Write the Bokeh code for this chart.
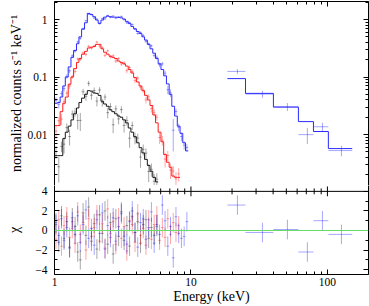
import numpy as np
from bokeh.plotting import figure
from bokeh.models import (ColumnDataSource, Range1d, LogAxis, LinearAxis, FixedTicker,
                          CustomJSTickFormatter, Span)
from bokeh.layouts import column
from bokeh.embed import file_html
from bokeh.resources import INLINE

# ---------------- data ----------------
E_edges = [1.00, 1.05, 1.10, 1.15, 1.20, 1.26, 1.32, 1.38, 1.45, 1.51, 1.58, 1.66, 1.74, 1.82,
           1.91, 2.00, 2.09, 2.19, 2.29, 2.40, 2.51, 2.63, 2.75, 2.88, 3.02, 3.16, 3.31, 3.47,
           3.63, 3.80, 3.98, 4.17, 4.37, 4.57, 4.79, 5.01, 5.25, 5.50, 5.75, 6.03, 6.31, 6.61,
           6.92, 7.24, 7.59, 7.94, 8.32, 8.71, 9.12, 9.55]

blue_model = [0.035, 0.036, 0.045, 0.070, 0.10, 0.15, 0.22, 0.29, 0.38, 0.50,
              0.68, 0.88, 1.28, 1.22, 1.12, 0.98, 0.86, 0.98, 1.10, 1.15,
              1.12, 1.10, 1.10, 1.09, 1.07, 1.02, 0.93, 0.85, 0.76, 0.69,
              0.62, 0.57, 0.50, 0.44, 0.37, 0.31, 0.26, 0.21, 0.17, 0.135,
              0.105, 0.076, 0.050, 0.031, 0.021, 0.014, 0.0105, 0.0072, 0.0052]
blue_relerr = [0.15, 0.14, 0.12, 0.10, 0.09, 0.08, 0.07, 0.06, 0.05, 0.05,
               0.045, 0.04, 0.035, 0.035, 0.035, 0.035, 0.04, 0.035, 0.035, 0.035,
               0.035, 0.035, 0.035, 0.035, 0.035, 0.035, 0.04, 0.04, 0.04, 0.045,
               0.045, 0.05, 0.05, 0.055, 0.06, 0.065, 0.07, 0.08, 0.09, 0.10,
               0.11, 0.13, 0.16, 0.22, 0.14, 0.14, 0.15, 0.15, 0.16]
blue_chi = [0.8, -0.5, 1.2, -1.0, 0.3, -1.8, 0.9, -0.4, 1.5, -1.2,
            0.6, 2.1, -0.8, 0.2, -1.5, 1.1, -0.3, 1.8, -1.9, 0.5,
            -0.7, 1.3, -1.1, 0.4, 1.7, -0.6, -1.4, 0.9, 2.0, -0.2,
            -1.7, 0.8, 1.2, -0.9, 0.3, 1.9, -1.3, 0.6, -0.4, 2.6,
            1.0, -1.6, 0.4, -2.8, 1.4, -0.3, -0.8, -0.6, 0.9]

red_model = [0.0143, 0.0143, 0.025, 0.035, 0.045, 0.075, 0.10, 0.14, 0.18, 0.21,
             0.25, 0.28, 0.32, 0.33, 0.34, 0.37, 0.37, 0.31, 0.27, 0.25,
             0.23, 0.22, 0.21, 0.19, 0.18, 0.17, 0.155, 0.135, 0.118, 0.098,
             0.082, 0.07, 0.058, 0.048, 0.040, 0.032, 0.022, 0.016, 0.011, 0.0075,
             0.0045, 0.0033, 0.0027, 0.0019, 0.0018, 0.0018]
red_relerr = [0.22, 0.2, 0.16, 0.14, 0.12, 0.1, 0.09, 0.08, 0.075, 0.07,
              0.065, 0.06, 0.06, 0.06, 0.06, 0.06, 0.06, 0.06, 0.065, 0.065,
              0.07, 0.07, 0.07, 0.075, 0.075, 0.08, 0.08, 0.085, 0.09, 0.09,
              0.1, 0.1, 0.11, 0.11, 0.12, 0.13, 0.15, 0.17, 0.19, 0.21,
              0.24, 0.26, 0.27, 0.28, 0.3, 0.3]
red_chi = [-0.9, 1.1, -1.6, 0.5, 1.4, -0.7, 0.2, -1.3, 1.9, -0.4,
           0.8, -2.0, 1.2, -0.6, 0.3, 1.6, -1.1, 0.7, -1.8, 2.2,
           -0.3, 0.9, -1.4, 1.3, -0.8, 0.4, -2.1, 1.0, 0.6, -1.2,
           1.7, -0.5, 0.2, -1.5, 1.1, -0.9, 0.6, 1.5, -1.0, 0.3,
           -0.7, 1.2, -0.4, 0.8, -0.2, 0.5]

black_model = [0.0043, 0.0043, 0.0043, 0.0085, 0.011, 0.014, 0.018, 0.023, 0.029, 0.036,
               0.043, 0.050, 0.058, 0.057, 0.053, 0.052, 0.048, 0.038, 0.034, 0.031,
               0.027, 0.025, 0.023, 0.021, 0.020, 0.018, 0.016, 0.013, 0.011, 0.0092,
               0.0072, 0.0059, 0.0048, 0.0037, 0.0029, 0.0023, 0.0018, 0.0015]
black_relerr = [0.3, 0.3, 0.3, 0.25, 0.22, 0.2, 0.2, 0.18, 0.18, 0.17,
                0.16, 0.15, 0.14, 0.14, 0.14, 0.14, 0.15, 0.15, 0.16, 0.16,
                0.17, 0.17, 0.18, 0.18, 0.19, 0.2, 0.2, 0.21, 0.22, 0.22,
                0.23, 0.24, 0.25, 0.26, 0.27, 0.28, 0.29, 0.3]
black_chi = [0.6, -1.2, 1.5, -0.8, 0.9, -1.7, 1.3, 0.4, -2.2, -3.0,
             1.8, -0.5, 2.4, -1.1, 0.7, -1.9, 1.6, -0.3, 2.0, -1.4,
             0.8, -2.4, 1.2, -0.6, 1.9, -1.0, 0.5, -1.6, 1.4, -0.2,
             0.9, -1.3, 0.6, 1.1, -0.8, 0.3, -0.5, 0.4]

hard_edges = [18.5, 25.1, 40.2, 61.3, 79.0, 101.6, 152.0]
hard_center = [21.9, 33.4, 50.9, 71.3, 91.9, 126.7]
hard_model = [0.094, 0.052, 0.030, 0.0168, 0.0113, 0.0057]
hard_relerr = [0.128, 0.135, 0.16, 0.185, 0.21, 0.19]
hard_chi = [2.6, -0.2, 0.1, -2.2, 1.0, -0.4]

x_major = [1, 10, 100]
y_major = [0.001, 0.01, 0.1, 1]
chi_major = [-4, -2, 0, 2, 4]
chi_minor = [-3, -1, 1, 3]

FONT = "Liberation Serif"

# ---------------- layout (pixels) ----------------
W = 369
H1, H2 = 185, 121          # upper / lower canvas heights
ML, MR = 54, 1
X_RANGE = (1, 200)
Y_RANGE = (0.0013, 2.06)   # spectrum panel
CHI_DIV, CHI_MIN = 4.0, -4.5
CHI_TOP = CHI_DIV + 0.6    # lower canvas reaches a little above the divider


def build(edges, model, relerr, chi, centers=None):
    n = len(model)
    lo = np.array(edges[:n], float)
    hi = np.array(edges[1:n + 1], float)
    m = np.array(model, float)
    s = m * np.array(relerr, float)
    c = np.array(chi, float)
    d = m + c * s
    xc = np.array(centers, float) if centers is not None else (lo + hi) / 2
    src = ColumnDataSource(dict(lo=lo, hi=hi, xc=xc, d=d, dlo=np.maximum(d - s, 1e-4),
                                dhi=d + s, chi=c, clo=c - 1, chh=c + 1))
    return src, list(edges[:n + 1]), list(model) + [model[-1]]


def log_minor(majors, lo, hi):
    return [b * k for b in majors for k in range(2, 10) if lo <= b * k <= hi]


x_minor = log_minor([1, 10, 100], 1, 200)
y_minor = log_minor(y_major, Y_RANGE[0], Y_RANGE[1])

FMT = "return String(Number(tick.toPrecision(3)));"


def style(ax, labels=True, standoff=3):
    ax.major_tick_in = 5
    ax.major_tick_out = 0
    ax.minor_tick_in = 3
    ax.minor_tick_out = 0
    ax.axis_line_color = "black"
    ax.major_tick_line_color = "black"
    ax.minor_tick_line_color = "black"
    ax.major_label_text_font = FONT
    ax.major_label_text_color = "black"
    ax.axis_label_text_font = FONT
    ax.axis_label_text_font_style = "normal"
    ax.axis_label_text_font_size = "14px"
    ax.axis_label_text_color = "black"
    if labels:
        ax.major_label_text_font_size = "11.5px"
        ax.major_label_standoff = standoff
    else:
        ax.major_label_text_font_size = "1px"
        ax.major_label_text_alpha = 0
        ax.major_label_standoff = 0


# ---------------- spectrum panel ----------------
p1 = figure(width=W, height=H1, x_axis_type="log", y_axis_type="log", x_axis_location=None,
            x_range=Range1d(*X_RANGE), y_range=Range1d(*Y_RANGE),
            output_backend="svg", toolbar_location=None,
            min_border_left=ML, min_border_right=MR, min_border_top=1, min_border_bottom=0)
p1.grid.visible = False
p1.outline_line_color = None
p1.yaxis.ticker = FixedTicker(ticks=y_major, minor_ticks=y_minor)
p1.yaxis.formatter = CustomJSTickFormatter(code=FMT)
style(p1.yaxis[0], labels=True, standoff=7)
p1.yaxis.axis_label = "normalized counts s\u207b\u00b9 keV\u207b\u00b9"
p1.yaxis.axis_label_standoff = 0
ax = LogAxis(ticker=FixedTicker(ticks=x_major, minor_ticks=x_minor))
style(ax, labels=False)
p1.add_layout(ax, "above")
ax = LogAxis(ticker=FixedTicker(ticks=y_major, minor_ticks=y_minor))
style(ax, labels=False)
p1.add_layout(ax, "right")

# ---------------- residual panel ----------------
p2 = figure(width=W, height=H2, x_axis_type="log",
            x_range=p1.x_range, y_range=Range1d(CHI_MIN, CHI_TOP),
            output_backend="svg", toolbar_location=None,
            min_border_left=ML, min_border_right=MR, min_border_top=0, min_border_bottom=30)
p2.grid.visible = False
p2.outline_line_color = None
p2.xaxis.ticker = FixedTicker(ticks=x_major, minor_ticks=x_minor)
p2.xaxis.formatter = CustomJSTickFormatter(code=FMT)
p2.yaxis.ticker = FixedTicker(ticks=chi_major, minor_ticks=chi_minor)
style(p2.xaxis[0], labels=True, standoff=3)
style(p2.yaxis[0], labels=True, standoff=7)
p2.xaxis.axis_label = "Energy (keV)"
p2.xaxis.axis_label_standoff = 0
p2.yaxis.axis_label = "\u03c7"
p2.yaxis.axis_label_standoff = 10
ax = LinearAxis(ticker=FixedTicker(ticks=chi_major, minor_ticks=chi_minor))
style(ax, labels=False)
p2.add_layout(ax, "right")

# divider line between the panels, with the energy ticks on both of its sides
p2.add_layout(Span(location=CHI_DIV, dimension="width", line_color="black", line_width=1))
p2.segment(x0=x_major, y0=[CHI_DIV - 0.5] * len(x_major), x1=x_major,
           y1=[CHI_DIV + 0.5] * len(x_major), line_color="black")
p2.segment(x0=x_minor, y0=[CHI_DIV - 0.3] * len(x_minor), x1=x_minor,
           y1=[CHI_DIV + 0.3] * len(x_minor), line_color="black")
p2.add_layout(Span(location=0, dimension="width", line_color="#66dd66", line_width=1))

spectra = [
    (build(E_edges, black_model, black_relerr, black_chi), "#000000", "#1a1a1a"),
    (build(E_edges, red_model, red_relerr, red_chi), "#ff0000", "#ff1a1a"),
    (build(E_edges, blue_model, blue_relerr, blue_chi), "#0000ff", "#2a2aff"),
    (build(hard_edges, hard_model, hard_relerr, hard_chi, hard_center), "#0000ff", "#2a2aff"),
]

for (src, sx, sy), dcol, mcol in spectra:
    p1.segment(x0="lo", y0="d", x1="hi", y1="d", source=src, line_color=dcol, line_alpha=0.35)
    p1.segment(x0="xc", y0="dlo", x1="xc", y1="dhi", source=src, line_color=dcol, line_alpha=0.35)
    p1.step(x=sx, y=sy, mode="after", line_color=mcol, line_width=1)
    p2.segment(x0="lo", y0="chi", x1="hi", y1="chi", source=src, line_color=dcol, line_alpha=0.35)
    p2.segment(x0="xc", y0="clo", x1="xc", y1="chh", source=src, line_color=dcol, line_alpha=0.35)

layout = column(p1, p2)
open("out.html", "w").write(file_html(layout, INLINE))
